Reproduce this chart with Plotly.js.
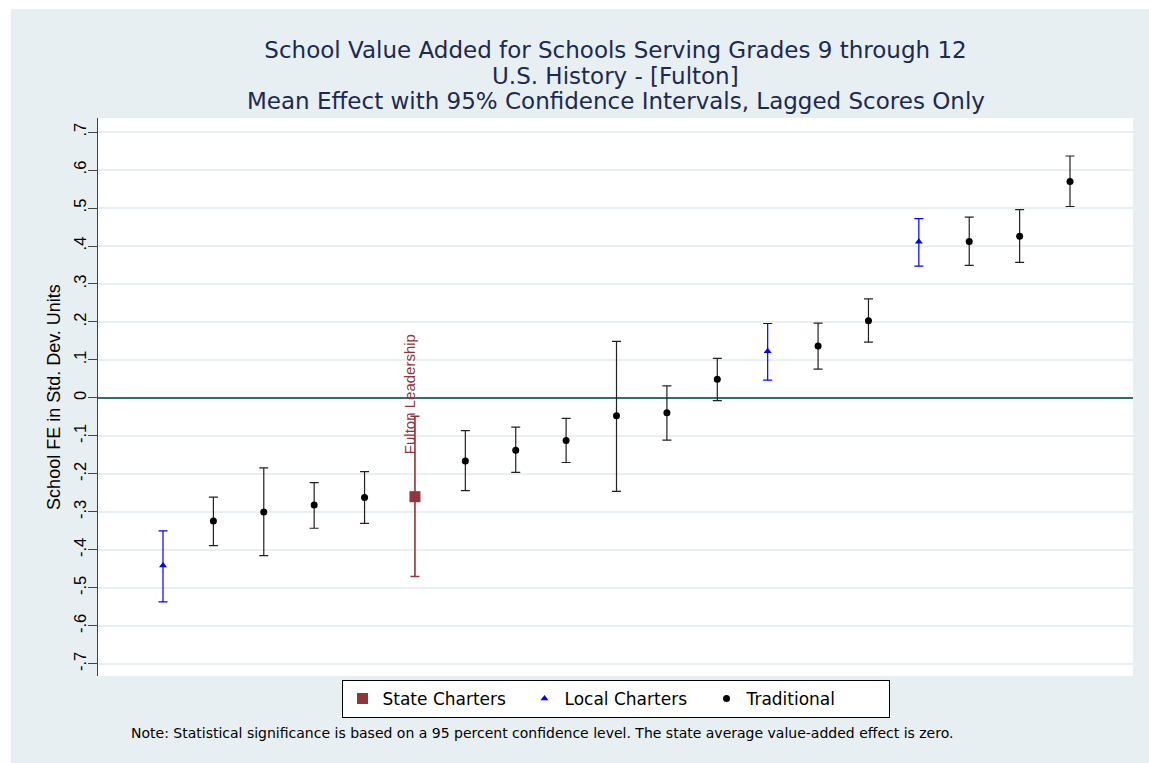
<!DOCTYPE html>
<html>
<head>
<meta charset="utf-8">
<script src="https://cdn.plot.ly/plotly-3.0.1.min.js"></script>
<style>
  html, body { margin: 0; padding: 0; background: #ffffff; width: 1149px; height: 763px; overflow: hidden; }
  #chart { position: absolute; left: 11px; top: 9px; width: 1138px; height: 754px; }
</style>
</head>
<body>
<div id="chart"></div>
<script>
// ---- Data ----
const schoolRank = [1, 2, 3, 4, 5, 6, 7, 8, 9, 10, 11, 12, 13, 14, 15, 16, 17, 18, 19];
const schoolType = ["Local", "Traditional", "Traditional", "Traditional", "Traditional", "State",
                    "Traditional", "Traditional", "Traditional", "Traditional", "Traditional", "Traditional",
                    "Local", "Traditional", "Traditional", "Local", "Traditional", "Traditional", "Traditional"];
const effect = [-0.441, -0.324, -0.300, -0.282, -0.262, -0.260, -0.166, -0.138, -0.112, -0.047,
                -0.039, 0.049, 0.123, 0.137, 0.203, 0.411, 0.412, 0.426, 0.570];
const ciHigh = [-0.350, -0.261, -0.184, -0.223, -0.194, -0.048, -0.086, -0.077, -0.054, 0.149,
                0.032, 0.104, 0.196, 0.197, 0.261, 0.472, 0.476, 0.496, 0.637];
const ciLow  = [-0.537, -0.389, -0.415, -0.343, -0.330, -0.470, -0.244, -0.196, -0.170, -0.246,
                -0.111, -0.007, 0.047, 0.076, 0.147, 0.347, 0.349, 0.357, 0.504];
const highlightLabel = "Fulton Leadership";
const highlightRank = 6;

const titleLines = [
  "School Value Added for Schools Serving Grades 9 through 12",
  "U.S. History - [Fulton]",
  "Mean Effect with 95% Confidence Intervals, Lagged Scores Only"
];
const noteText = "Note: Statistical significance is based on a 95 percent confidence level. The state average value-added effect is zero.";
const yTitle = "School FE in Std. Dev. Units";

const tickValues = [0.7, 0.6, 0.5, 0.4, 0.3, 0.2, 0.1, 0, -0.1, -0.2, -0.3, -0.4, -0.5, -0.6, -0.7];
const tickLabels = [".7", ".6", ".5", ".4", ".3", ".2", ".1", "0", "-.1", "-.2", "-.3", "-.4", "-.5", "-.6", "-.7"];

const groups = [
  { key: "State", name: "State Charters", symbol: "square", color: "#90353b", size: 11, lw: 1.6 },
  { key: "Local", name: "Local Charters", symbol: "triangle-up", color: "#0000ff", size: 7, lw: 1.2 },
  { key: "Traditional", name: "Traditional", symbol: "circle", color: "#000000", size: 7, lw: 1.2 }
];

// horizontal text: wide sans (reference text is horizontally stretched); rotated text: Arial metrics
const HFONT = "'DejaVu Sans', Arial, sans-serif";
const VFONT = "Arial, 'Liberation Sans', Helvetica, sans-serif";

const traces = groups.map(g => {
  const idx = schoolType.map((t, i) => t === g.key ? i : -1).filter(i => i >= 0);
  return {
    type: "scatter",
    mode: "markers",
    name: g.name,
    x: idx.map(i => schoolRank[i]),
    y: idx.map(i => effect[i]),
    marker: { symbol: g.symbol, color: g.color, size: g.size, line: { width: 0 } },
    error_y: {
      type: "data",
      symmetric: false,
      array: idx.map(i => ciHigh[i] - effect[i]),
      arrayminus: idx.map(i => effect[i] - ciLow[i]),
      color: g.key === "Traditional" ? "#222222" : g.color,
      thickness: g.lw,
      width: 4.5
    },
    hoverinfo: "x+y"
  };
});

const hi = schoolRank.indexOf(highlightRank);
const titleColor = "#1c2951";

const layout = {
  width: 1138,
  height: 754,
  paper_bgcolor: "#e8eff2",
  plot_bgcolor: "#ffffff",
  margin: { l: 87, r: 16, t: 109, b: 87 },
  font: { family: HFONT, color: "#000000" },
  title: {
    text: titleLines[0],
    font: { family: HFONT, size: 23, color: titleColor },
    x: 0.5,
    xref: "paper",
    xanchor: "center",
    y: 0.9456,
    yref: "container",
    yanchor: "middle"
  },
  showlegend: true,
  legend: {
    orientation: "h",
    x: 0.5,
    xanchor: "center",
    y: -0.007,
    yanchor: "top",
    bgcolor: "#ffffff",
    bordercolor: "#000000",
    borderwidth: 1,
    entrywidth: 137,
    font: { family: HFONT, size: 17, color: "#000000" },
    traceorder: "normal"
  },
  xaxis: {
    range: [-0.29, 20.25],
    showgrid: false,
    zeroline: false,
    showticklabels: false,
    ticks: "",
    showline: false
  },
  yaxis: {
    range: [-0.732, 0.737],
    tickmode: "array",
    tickvals: tickValues,
    ticktext: tickLabels,
    tickangle: -90,
    tickfont: { family: VFONT, size: 16.5, color: "#000000" },
    ticklabelstandoff: -5,
    ticks: "outside",
    ticklen: 9,
    tickcolor: "#444444",
    tickwidth: 1,
    showline: true,
    linecolor: "#444444",
    linewidth: 1,
    showgrid: true,
    gridcolor: "#e9f0f2",
    gridwidth: 1.6,
    zeroline: true,
    zerolinecolor: "#2f6e69",
    zerolinewidth: 1.6,
    title: {
      text: yTitle,
      font: { family: VFONT, size: 18, color: "#000000" },
      standoff: 6
    }
  },
  annotations: [
    {
      x: 0.5, y: 1.0758, xref: "paper", yref: "paper",
      text: titleLines[1], showarrow: false, xanchor: "center", yanchor: "middle",
      font: { family: HFONT, size: 23, color: titleColor }
    },
    {
      x: 0.5, y: 1.031, xref: "paper", yref: "paper",
      text: titleLines[2], showarrow: false, xanchor: "center", yanchor: "middle",
      font: { family: HFONT, size: 23, color: titleColor }
    },
    {
      x: schoolRank[hi],
      y: ciHigh[hi],
      xref: "x",
      yref: "y",
      text: highlightLabel,
      showarrow: false,
      textangle: -90,
      xanchor: "center",
      yanchor: "middle",
      xshift: -6,
      yshift: 22,
      font: { family: VFONT, size: 15, color: "#90353b" }
    },
    {
      x: 0.03,
      y: -0.102,
      xref: "paper",
      yref: "paper",
      text: noteText,
      showarrow: false,
      xanchor: "left",
      yanchor: "middle",
      font: { family: HFONT, size: 14, color: "#000000" }
    }
  ]
};

Plotly.newPlot("chart", traces, layout, { staticPlot: true, displayModeBar: false });
</script>
</body>
</html>
